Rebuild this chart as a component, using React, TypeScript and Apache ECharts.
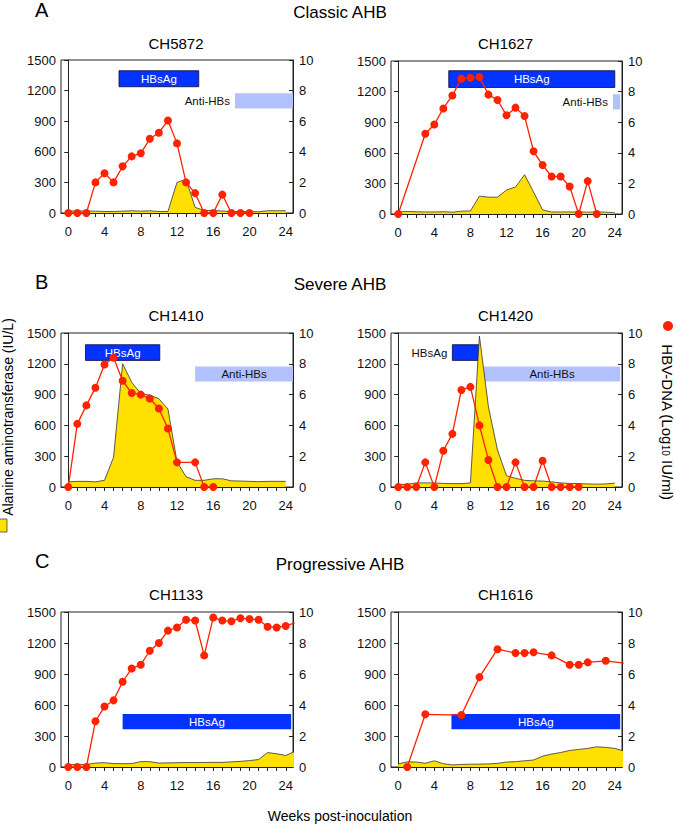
import React, { useEffect, useRef } from "react";
import * as echarts from "echarts";

// ---------- data ----------
const weeks0to24 = [0, 1, 2, 3, 4, 5, 6, 7, 8, 9, 10, 11, 12, 13, 14, 15, 16, 17, 18, 19, 20, 21, 22, 23, 24];
const weeks0to25 = [0, 1, 2, 3, 4, 5, 6, 7, 8, 9, 10, 11, 12, 13, 14, 15, 16, 17, 18, 19, 20, 21, 22, 23, 24, 25];
const weekTickValues = [0, 1, 2, 3, 4, 5, 6, 7, 8, 9, 10, 11, 12, 13, 14, 15, 16, 17, 18, 19, 20, 21, 22, 23, 24];
const weekLabelValues = [0, 4, 8, 12, 16, 20, 24];

// CH5872 (Classic AHB)
const ch5872Alt = [20, 20, 20, 18, 15, 15, 18, 22, 18, 22, 15, 15, 300, 330, 55, 25, 25, 20, 15, 15, 15, 12, 22, 22, 22];
const ch5872DnaWeeks = [0, 1, 2, 3, 4, 5, 6, 7, 8, 9, 10, 11, 12, 13, 14, 15, 16, 17, 18, 19, 20];
const ch5872Dna = [0, 0, 0, 2.0, 2.6, 2.0, 3.05, 3.7, 3.9, 4.85, 5.25, 6.05, 4.55, 2.0, 1.3, 0, 0, 1.2, 0, 0, 0];
const ch5872Hbsag = [5.6, 14.4, 1238, 1395];
const ch5872AntiHbs = [18.4, 24.8, 1025, 1175];

// CH1627 (Classic AHB)
const ch1627Alt = [20, 25, 22, 20, 20, 22, 18, 28, 30, 175, 165, 165, 235, 265, 385, 215, 40, 20, 20, 20, 20, 18, 20, 18, 12];
const ch1627DnaWeeks = [0, 3, 4, 5, 6, 7, 8, 9, 10, 11, 12, 13, 14, 15, 16, 17, 18, 19, 20, 21, 22];
const ch1627Dna = [0, 5.25, 5.85, 6.9, 7.75, 8.85, 8.9, 8.95, 7.8, 7.45, 6.45, 6.95, 6.4, 4.1, 3.2, 2.45, 2.45, 1.8, 0, 2.15, 0];
const ch1627Hbsag = [5.6, 24.0, 1240, 1405];
const ch1627AntiHbs = [23.8, 24.6, 1025, 1175];

// CH1410 (Severe AHB)
const ch1410Alt = [50, 55, 55, 50, 65, 290, 1200, 1020, 910, 895, 860, 760, 245, 100, 65, 65, 80, 80, 60, 58, 55, 52, 55, 55, 55];
const ch1410DnaWeeks = [0, 1, 2, 3, 4, 5, 6, 7, 8, 9, 10, 11, 12, 14, 15, 16];
const ch1410Dna = [0, 4.1, 5.3, 6.45, 7.95, 8.4, 6.9, 6.1, 6.0, 5.75, 5.1, 3.8, 1.6, 1.6, 0, 0];
const ch1410Hbsag = [1.9, 10.1, 1233, 1386];
const ch1410AntiHbs = [14.0, 24.8, 1027, 1174];

// CH1420 (Severe AHB)
const ch1420Alt = [26, 26, 40, 40, 40, 35, 33, 33, 40, 1470, 780, 360, 110, 85, 65, 60, 58, 50, 40, 35, 33, 30, 28, 30, 38];
const ch1420DnaWeeks = [0, 1, 2, 3, 4, 5, 6, 7, 8, 9, 10, 11, 12, 13, 14, 15, 16, 17, 18, 19, 20];
const ch1420Dna = [0, 0, 0, 1.6, 0, 2.35, 3.45, 6.3, 6.5, 4.0, 1.75, 0, 0, 1.6, 0, 0, 1.7, 0, 0, 0, 0];
const ch1420Hbsag = [6.0, 9.0, 1233, 1386];
const ch1420AntiHbs = [9.5, 24.6, 1027, 1174];

// CH1133 (Progressive AHB)
const ch1133Alt = [23, 25, 25, 38, 42, 33, 32, 33, 52, 52, 38, 40, 42, 43, 43, 44, 45, 45, 50, 55, 62, 72, 140, 128, 112, 150];
const ch1133DnaWeeks = [0, 1, 2, 3, 4, 5, 6, 7, 8, 9, 10, 11, 12, 13, 14, 15, 16, 17, 18, 19, 20, 21, 22, 23, 24, 25];
const ch1133Dna = [0, 0, 0, 2.95, 3.9, 4.3, 5.5, 6.35, 6.6, 7.5, 8.0, 8.8, 9.0, 9.5, 9.45, 7.2, 9.65, 9.45, 9.4, 9.6, 9.55, 9.5, 9.05, 9.0, 9.1, 9.3];
const ch1133Hbsag = [6.0, 24.6, 365, 513];

// CH1616 (Progressive AHB)
const ch1616Alt = [30, 50, 48, 36, 60, 32, 20, 25, 27, 28, 30, 35, 48, 52, 60, 68, 105, 125, 140, 160, 170, 180, 195, 190, 180, 155];
const ch1616DnaWeeks = [1, 3, 7, 9, 11, 13, 14, 15, 17, 19, 20, 21, 23, 25];
const ch1616Dna = [0, 3.4, 3.35, 5.8, 7.6, 7.35, 7.35, 7.4, 7.2, 6.6, 6.6, 6.75, 6.85, 6.7];
const ch1616Hbsag = [5.9, 24.6, 365, 513];

// ---------- styling / layout ----------
const FONT = '"Liberation Sans", Arial, Helvetica, sans-serif';
const RED = "#FF2200";
const YELLOW = "#FFE000";
const BLUE = "#0433FF";
const LIGHTBLUE = "#B3C2FF";
const INK = "#111111";

const LX = 61, LW = 232, RX = 391, RW = 231;

type Bar = { span: number[]; color: string; stroke?: string; label: string; pos: "inside" | "left"; labelColor: string };
type Panel = {
  title: string; left: number; top: number; width: number; height: number;
  altWeeks: number[]; alt: number[]; dnaWeeks: number[]; dna: number[]; bars: Bar[];
};

const hb = (span: number[], pos: "inside" | "left", stroke?: string): Bar => ({
  span, color: BLUE, stroke, label: "HBsAg", pos, labelColor: pos === "inside" ? "#FFFFFF" : INK,
});
const anti = (span: number[], pos: "inside" | "left"): Bar => ({
  span, color: LIGHTBLUE, label: "Anti-HBs", pos, labelColor: INK,
});

const panels: Panel[] = [
  { title: "CH5872", left: LX, top: 60, width: LW, height: 153, altWeeks: weeks0to24, alt: ch5872Alt, dnaWeeks: ch5872DnaWeeks, dna: ch5872Dna,
    bars: [hb(ch5872Hbsag, "inside", "#0a0a40"), anti(ch5872AntiHbs, "left")] },
  { title: "CH1627", left: RX, top: 61, width: RW, height: 153, altWeeks: weeks0to24, alt: ch1627Alt, dnaWeeks: ch1627DnaWeeks, dna: ch1627Dna,
    bars: [hb(ch1627Hbsag, "inside", "#0a0a40"), anti(ch1627AntiHbs, "left")] },
  { title: "CH1410", left: LX, top: 333, width: LW, height: 154, altWeeks: weeks0to24, alt: ch1410Alt, dnaWeeks: ch1410DnaWeeks, dna: ch1410Dna,
    bars: [hb(ch1410Hbsag, "inside", "#0a0a40"), anti(ch1410AntiHbs, "inside")] },
  { title: "CH1420", left: RX, top: 333, width: RW, height: 154, altWeeks: weeks0to24, alt: ch1420Alt, dnaWeeks: ch1420DnaWeeks, dna: ch1420Dna,
    bars: [hb(ch1420Hbsag, "left", "#0a0a40"), anti(ch1420AntiHbs, "inside")] },
  { title: "CH1133", left: LX, top: 612, width: LW, height: 155, altWeeks: weeks0to25, alt: ch1133Alt, dnaWeeks: ch1133DnaWeeks, dna: ch1133Dna,
    bars: [hb(ch1133Hbsag, "inside")] },
  { title: "CH1616", left: RX, top: 612, width: RW, height: 155, altWeeks: weeks0to25, alt: ch1616Alt, dnaWeeks: ch1616DnaWeeks, dna: ch1616Dna,
    bars: [hb(ch1616Hbsag, "inside")] },
];

const sections = [
  { letter: "A", title: "Classic AHB", letterY: 10, titleY: 12 },
  { letter: "B", title: "Severe AHB", letterY: 282, titleY: 284 },
  { letter: "C", title: "Progressive AHB", letterY: 561, titleY: 564 },
];
const panelTitleY = [43, 43, 315, 315, 594, 594];

const txt = (size: number) => ({ fontSize: size, fontFamily: FONT, fontWeight: "normal" as const });

function makeBarRenderer(bar: Bar) {
  return (_params: any, api: any) => {
    const a = api.coord([api.value(0), api.value(3)]);
    const b = api.coord([api.value(1), api.value(2)]);
    const cy = (a[1] + b[1]) / 2;
    const inside = bar.pos === "inside";
    return {
      type: "group",
      children: [
        {
          type: "rect",
          shape: { x: a[0], y: a[1], width: b[0] - a[0], height: b[1] - a[1] },
          style: { fill: bar.color, stroke: bar.stroke || null, lineWidth: bar.stroke ? 0.8 : 0 },
        },
        {
          type: "text",
          x: inside ? (a[0] + b[0]) / 2 : a[0] - 5,
          y: cy,
          style: {
            text: bar.label,
            fill: bar.labelColor,
            ...txt(11.5),
            align: inside ? "center" : "right",
            verticalAlign: "middle",
          },
        },
      ],
    };
  };
}

export default function App() {
  const ref = useRef<HTMLDivElement>(null);

  useEffect(() => {
    if (!ref.current) return;
    const chart = echarts.init(ref.current, undefined, { renderer: "svg" });

    const grid: any[] = [];
    const xAxis: any[] = [];
    const yAxis: any[] = [];
    const series: any[] = [];
    const axisLineStyle = { color: "#222222", width: 1 };
    const plain = (v: number) => String(v);

    panels.forEach((p, i) => {
      grid.push({
        left: p.left, top: p.top, width: p.width, height: p.height,
        show: true, borderColor: "#222222", borderWidth: 1, backgroundColor: "transparent",
      });
      xAxis.push({
        gridIndex: i, type: "value", min: -0.8, max: 24.8,
        axisLine: { show: true, onZero: false, lineStyle: axisLineStyle },
        axisTick: { show: true, inside: false, length: 4, customValues: weekTickValues, lineStyle: axisLineStyle },
        axisLabel: { customValues: weekLabelValues, formatter: plain, fontSize: 13, fontFamily: FONT, color: INK, margin: 12 },
        splitLine: { show: false },
      });
      yAxis.push({
        gridIndex: i, type: "value", position: "left", min: 0, max: 1500, interval: 300,
        axisLine: { show: true, lineStyle: axisLineStyle },
        axisTick: { show: true, inside: false, length: 4, lineStyle: axisLineStyle },
        axisLabel: { formatter: plain, fontSize: 13, fontFamily: FONT, color: INK, margin: 5 },
        splitLine: { show: false },
      });
      yAxis.push({
        gridIndex: i, type: "value", position: "right", min: 0, max: 10, interval: 2,
        axisLine: { show: true, lineStyle: axisLineStyle },
        axisTick: { show: true, inside: true, length: 4, lineStyle: axisLineStyle },
        axisLabel: { formatter: plain, fontSize: 13, fontFamily: FONT, color: INK, margin: 6 },
        splitLine: { show: false },
      });

      p.bars.forEach((bar) => {
        series.push({
          type: "custom", xAxisIndex: i, yAxisIndex: 2 * i, z: 2,
          data: [bar.span], encode: { x: [0, 1], y: [2, 3] },
          renderItem: makeBarRenderer(bar), clip: false, silent: true,
        });
      });

      series.push({
        type: "line", xAxisIndex: i, yAxisIndex: 2 * i, z: 3,
        data: p.altWeeks.map((w, k) => [w, p.alt[k]]),
        symbol: "none", clip: true,
        lineStyle: { color: "#333333", width: 0.8 },
        areaStyle: { color: YELLOW, opacity: 1 },
        silent: true,
      });

      series.push({
        type: "line", xAxisIndex: i, yAxisIndex: 2 * i + 1, z: 4,
        data: p.dnaWeeks.map((w, k) => [w, p.dna[k]]),
        symbol: "circle", symbolSize: 8, clip: true,
        lineStyle: { color: RED, width: 1.3 },
        itemStyle: { color: RED },
        silent: true,
      });
    });

    const graphic: any[] = [];
    sections.forEach((s) => {
      graphic.push({
        type: "text", x: 35, y: s.letterY,
        style: { text: s.letter, ...txt(20), fill: "#000", align: "left", verticalAlign: "middle" },
      });
      graphic.push({
        type: "text", x: 340, y: s.titleY,
        style: { text: s.title, ...txt(17), fill: "#000", align: "center", verticalAlign: "middle" },
      });
    });
    panels.forEach((p, i) => {
      graphic.push({
        type: "text", x: p.left + p.width / 2 - 1, y: panelTitleY[i],
        style: { text: p.title, ...txt(15), fill: "#000", align: "center", verticalAlign: "middle" },
      });
    });
    // left legend (ALT)
    graphic.push({
      type: "rect", shape: { x: -6, y: 519, width: 13, height: 13 },
      style: { fill: YELLOW, stroke: "#444", lineWidth: 0.8 },
    });
    graphic.push({
      type: "text", x: 7.5, y: 417, rotation: Math.PI / 2,
      style: { text: "Alanine aminotransferase (IU/L)", ...txt(14), fill: "#000", align: "center", verticalAlign: "middle" },
    });
    // right legend (HBV-DNA)
    graphic.push({
      type: "circle", shape: { cx: 668, cy: 326, r: 5 },
      style: { fill: RED },
    });
    graphic.push({
      type: "text", x: 667, y: 422, rotation: -Math.PI / 2,
      style: {
        text: "{m|HBV-DNA (Log}{s|10}{m| IU/ml)}",
        align: "center", verticalAlign: "middle", fill: "#000",
        rich: {
          m: { fontSize: 15, fontFamily: FONT, fontWeight: "normal", fill: "#000", lineHeight: 14 },
          s: { fontSize: 10, fontFamily: FONT, fontWeight: "normal", fill: "#000", verticalAlign: "bottom", lineHeight: 14 },
        },
      },
    });
    // x-axis shared title
    graphic.push({
      type: "text", x: 340, y: 816,
      style: { text: "Weeks post-inoculation", ...txt(14), fill: "#000", align: "center", verticalAlign: "middle" },
    });

    chart.setOption({
      animation: false,
      backgroundColor: "#ffffff",
      grid, xAxis, yAxis, series, graphic,
    });

    return () => chart.dispose();
  }, []);

  return (
    <div
      ref={ref}
      style={{ position: "absolute", left: 0, top: 0, width: 675, height: 824, background: "#fff" }}
    />
  );
}
